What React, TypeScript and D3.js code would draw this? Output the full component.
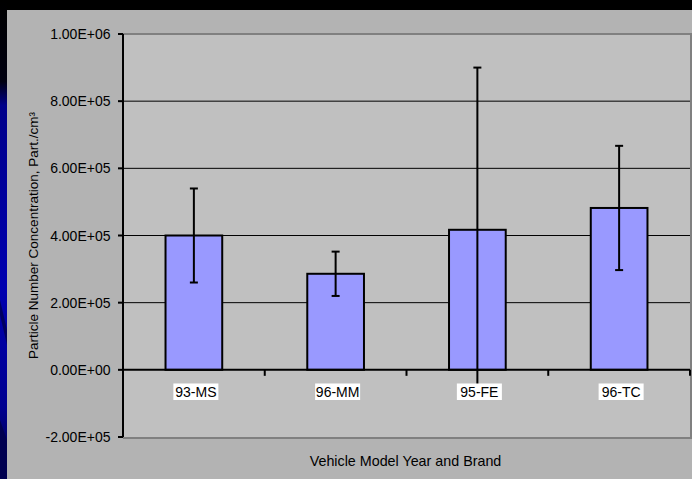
import React from "react";
import * as d3 from "d3";

const categories = ["93-MS", "96-MM", "95-FE", "96-TC"];
const values = [4.0e5, 2.86e5, 4.17e5, 4.82e5];
const errors = [1.4e5, 0.66e5, 4.83e5, 1.85e5];
const yTicks = [-2e5, 0, 2e5, 4e5, 6e5, 8e5, 1e6];
const gridValues = [2e5, 4e5, 6e5, 8e5];
const yTitle = "Particle Number Concentration, Part./cm³";
const xTitle = "Vehicle Model Year and Brand";

const W = 692;
const H = 479;
const FONT = "'Liberation Sans', Arial, sans-serif";

function fmtE(v: number): string {
  if (v === 0) return "0.00E+00";
  const e = Math.floor(Math.log10(Math.abs(v)));
  const m = v / Math.pow(10, e);
  const sign = e < 0 ? "-" : "+";
  return `${m.toFixed(2)}E${sign}${String(Math.abs(e)).padStart(2, "0")}`;
}

export default function App() {
  const left = 123, right = 690, top = 34, bottom = 437;
  const y = d3.scaleLinear().domain([-2e5, 1e6]).range([bottom, top]);
  const x = d3
    .scaleBand<string>()
    .domain(categories)
    .range([left, right])
    .paddingInner(0.6)
    .paddingOuter(0.3);
  const y0 = y(0);
  const step = x.step();
  const boundaries = d3.range(categories.length + 1).map((i) => left + i * step);

  return (
    <svg
      width={W}
      height={H}
      style={{ position: "absolute", left: 0, top: 0 }}
      fontFamily={FONT}
    >
      <defs>
        <linearGradient id="blueStrip" x1="0" y1="0" x2="0" y2="1">
          <stop offset="0" stopColor="#000000" />
          <stop offset="0.17" stopColor="#000010" />
          <stop offset="0.22" stopColor="#00008a" />
          <stop offset="0.6" stopColor="#0000b0" />
          <stop offset="0.85" stopColor="#000090" />
          <stop offset="1" stopColor="#000040" />
        </linearGradient>
      </defs>
      <rect x={0} y={0} width={W} height={H} fill="#000" />
      <rect x={0} y={0} width={7} height={H} fill="url(#blueStrip)" />
      <polygon points="0,300 7,330 7,345 0,315" fill="#000060" />
      <polygon points="0,420 7,440 7,479 0,479" fill="#000050" />
      {/* chart area */}
      <rect x={7} y={10} width={W - 7} height={H - 10} fill="#b3b3b3" />
      {/* plot area */}
      <rect x={left} y={top} width={right - left} height={bottom - top} fill="#c0c0c0" />
      {gridValues.map((v) => (
        <line key={v} x1={left} x2={right} y1={y(v)} y2={y(v)} stroke="#000" strokeWidth={1} />
      ))}
      <path
        d={`M${left},${top} H${right + 1} V${bottom + 1} H${left}`}
        fill="none"
        stroke="#808080"
        strokeWidth={2}
      />
      {/* bars */}
      {categories.map((c, i) => (
        <rect
          key={c}
          x={x(c)!}
          y={y(values[i])}
          width={x.bandwidth()}
          height={y0 - y(values[i])}
          fill="#9999ff"
          stroke="#000"
          strokeWidth={2}
        />
      ))}
      {/* axes */}
      <line x1={left} x2={left} y1={top} y2={bottom} stroke="#000" strokeWidth={2} />
      {yTicks.map((t) => (
        <g key={t}>
          <line x1={left - 5} x2={left} y1={y(t)} y2={y(t)} stroke="#000" strokeWidth={2} />
          <text
            x={left - 12.5}
            y={y(t)}
            textAnchor="end"
            dominantBaseline="central"
            fontSize={14}
            fill="#000"
          >
            {fmtE(t)}
          </text>
        </g>
      ))}
      <line x1={left} x2={right} y1={y0} y2={y0} stroke="#000" strokeWidth={2} />
      {boundaries.map((bx, i) => (
        <line key={i} x1={bx} x2={bx} y1={y0} y2={y0 + 6} stroke="#000" strokeWidth={2} />
      ))}
      {/* error bars */}
      {categories.map((c, i) => {
        const cx = x(c)! + x.bandwidth() / 2;
        const yt = y(values[i] + errors[i]);
        const yb = y(values[i] - errors[i]);
        return (
          <g key={c} stroke="#000" strokeWidth={2}>
            <line x1={cx} x2={cx} y1={yt} y2={yb} />
            <line x1={cx - 4} x2={cx + 4} y1={yt} y2={yt} />
            <line x1={cx - 4} x2={cx + 4} y1={yb} y2={yb} />
          </g>
        );
      })}
      {/* category labels */}
      {categories.map((c) => {
        const cx = x(c)! + x.bandwidth() / 2 + 2;
        const bw = c.length * 8 + 5;
        return (
          <g key={c}>
            <rect x={cx - bw / 2} y={383.5} width={bw} height={16.5} fill="#fff" />
            <text
              x={cx}
              y={392}
              textAnchor="middle"
              dominantBaseline="central"
              fontSize={14}
              fill="#000"
            >
              {c}
            </text>
          </g>
        );
      })}
      {/* titles */}
      <text
        x={(left + right) / 2 - 1}
        y={461}
        textAnchor="middle"
        dominantBaseline="central"
        fontSize={14.3}
        fill="#000"
      >
        {xTitle}
      </text>
      <text
        transform={`translate(33,${(top + bottom) / 2}) rotate(-90)`}
        textAnchor="middle"
        dominantBaseline="central"
        fontSize={13.5}
        fill="#000"
      >
        {yTitle}
      </text>
    </svg>
  );
}
